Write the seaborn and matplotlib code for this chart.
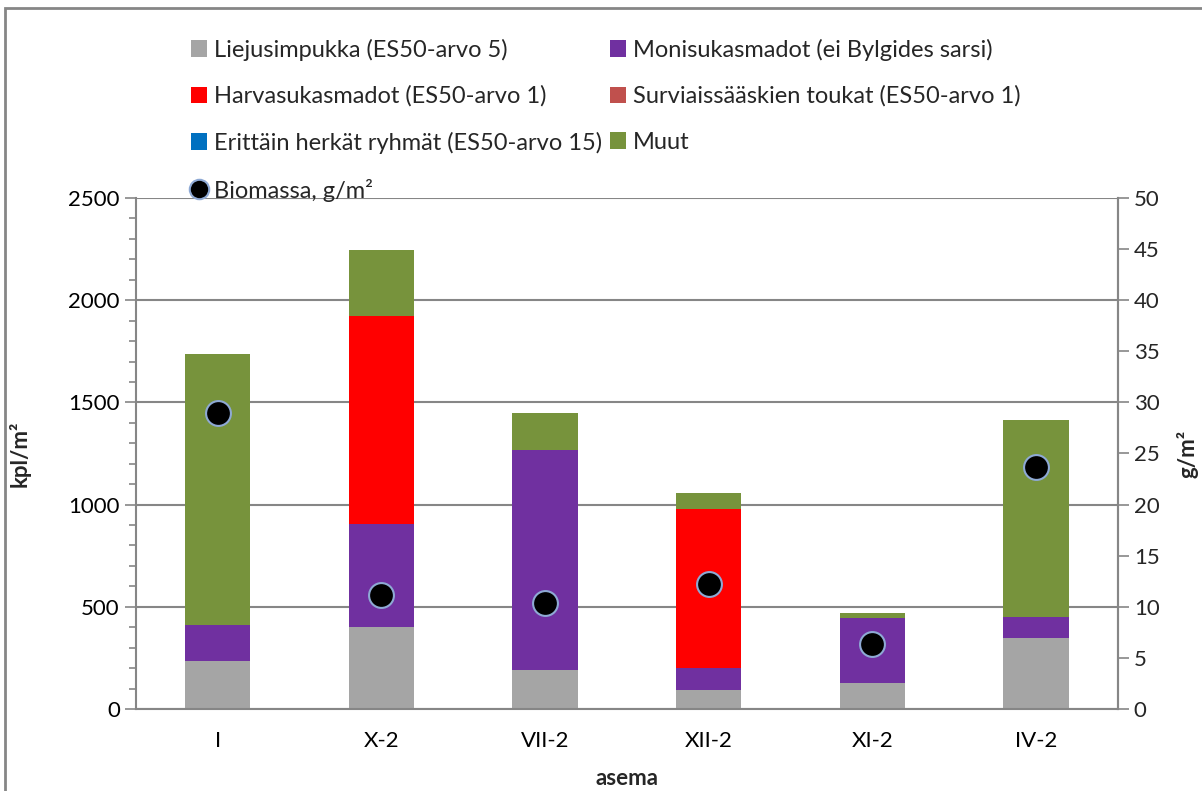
import numpy as np
import pandas as pd
import seaborn as sns
import matplotlib.pyplot as plt
from matplotlib.patches import Patch, Rectangle
from matplotlib.lines import Line2D
from matplotlib.ticker import MultipleLocator

stations = ['I', 'X-2', 'VII-2', 'XII-2', 'XI-2', 'IV-2']
liejusimpukka = [235, 400, 190, 93, 125, 347]
monisukasmadot = [175, 505, 1077, 107, 320, 103]
harvasukasmadot = [0, 1018, 0, 778, 0, 0]
surviais = [0, 0, 0, 0, 0, 0]
herkat = [0, 0, 0, 0, 0, 0]
muut = [1327, 323, 181, 79, 25, 964]
biomassa = [29.0, 11.2, 10.4, 12.2, 6.4, 23.7]

series = [
    ('Liejusimpukka (ES50-arvo 5)', liejusimpukka, '#A5A5A5'),
    ('Monisukasmadot (ei Bylgides sarsi)', monisukasmadot, '#7030A0'),
    ('Harvasukasmadot (ES50-arvo 1)', harvasukasmadot, '#FF0000'),
    ('Surviaissääskien toukat (ES50-arvo 1)', surviais, '#C0504D'),
    ('Erittäin herkät ryhmät (ES50-arvo 15)', herkat, '#0070C0'),
    ('Muut', muut, '#77933C'),
]

sns.set_style('white')
plt.rcParams['font.family'] = ['Lato', 'DejaVu Sans']
axcol = '#868686'
fs = 16

fig = plt.figure(figsize=(12.02, 7.91), dpi=100)
ax = fig.add_axes([0.113, 0.1037, 0.817, 0.646])

bottom = np.zeros(len(stations))
handles = {}
for name, vals, col in series:
    df = pd.DataFrame({'asema': stations, 'v': vals})
    sns.barplot(data=df, x='asema', y='v', color=col, bottom=bottom, width=0.4,
                saturation=1, ax=ax, linewidth=0)
    bottom = bottom + np.array(vals)
    handles[name] = Patch(facecolor=col, edgecolor='none')

ax.set_ylim(0, 2500)
ax.set_xlim(-0.5, len(stations) - 0.5)
ax.yaxis.set_major_locator(MultipleLocator(500))
ax.yaxis.set_minor_locator(MultipleLocator(100))
ax.grid(axis='y', color=axcol, linewidth=1.5)
ax.set_axisbelow(True)
ax.set_ylabel('kpl/m²', fontsize=fs, fontweight='bold', labelpad=27)
ax.set_xlabel('asema', fontsize=fs, fontweight='bold', labelpad=12)
ax.set_xticks(np.arange(len(stations)))
ax.set_xticklabels(stations)
ax.set_xticks(np.arange(len(stations) + 1) - 0.5, minor=True)
ax.tick_params(axis='x', which='major', length=0, labelsize=fs, pad=16)
ax.tick_params(axis='x', which='minor', length=8, color=axcol, width=1.2, direction='out')
ax.tick_params(axis='y', which='major', length=8, color=axcol, width=1.2, labelsize=fs, direction='out')
ax.tick_params(axis='y', which='minor', length=5, color=axcol, width=1.2, direction='out')
ax.tick_params(axis='both', colors=axcol, labelcolor='black', which='both')
for s in ['left', 'bottom', 'right']:
    ax.spines[s].set_color(axcol)
    ax.spines[s].set_linewidth(1.5)
ax.spines['top'].set_visible(False)

ax2 = ax.twinx()
bdf = pd.DataFrame({'asema': stations, 'b': biomassa})
sns.scatterplot(data=bdf, x='asema', y='b', ax=ax2, s=320, color='black',
                edgecolor='#8EA9D4', linewidth=1.5, zorder=5)
ax2.set_ylim(0, 50)
ax2.set_xlim(-0.5, len(stations) - 0.5)
ax2.yaxis.set_major_locator(MultipleLocator(5))
ax2.set_ylabel('g/m²', fontsize=fs, fontweight='bold', labelpad=12, rotation=90)
ax2.tick_params(axis='y', length=8, color=axcol, width=1.2, labelsize=fs, direction='out')
for s in ax2.spines.values():
    s.set_visible(False)
ax2.spines['right'].set_visible(True)
ax2.spines['right'].set_color(axcol)
ax2.spines['right'].set_linewidth(1.5)

handles['Biomassa, g/m²'] = Line2D([], [], marker='o', linestyle='none', markersize=14,
                                    markerfacecolor='black', markeredgecolor='#8EA9D4',
                                    markeredgewidth=1.5)
order = ['Liejusimpukka (ES50-arvo 5)', 'Harvasukasmadot (ES50-arvo 1)',
         'Erittäin herkät ryhmät (ES50-arvo 15)', 'Biomassa, g/m²',
         'Monisukasmadot (ei Bylgides sarsi)', 'Surviaissääskien toukat (ES50-arvo 1)', 'Muut']
fig.legend([handles[k] for k in order], order, ncol=2, loc='upper left',
           bbox_to_anchor=(0.141, 0.978), frameon=False, fontsize=17,
           handlelength=0.7, handleheight=0.7, handletextpad=0.3,
           columnspacing=0.3, labelspacing=1.05)

fig.patches.append(Rectangle((0.004, -0.01), 1.2, 1.0, transform=fig.transFigure,
                             fill=False, edgecolor=axcol, linewidth=2))

fig.savefig('out.png', dpi=100)
